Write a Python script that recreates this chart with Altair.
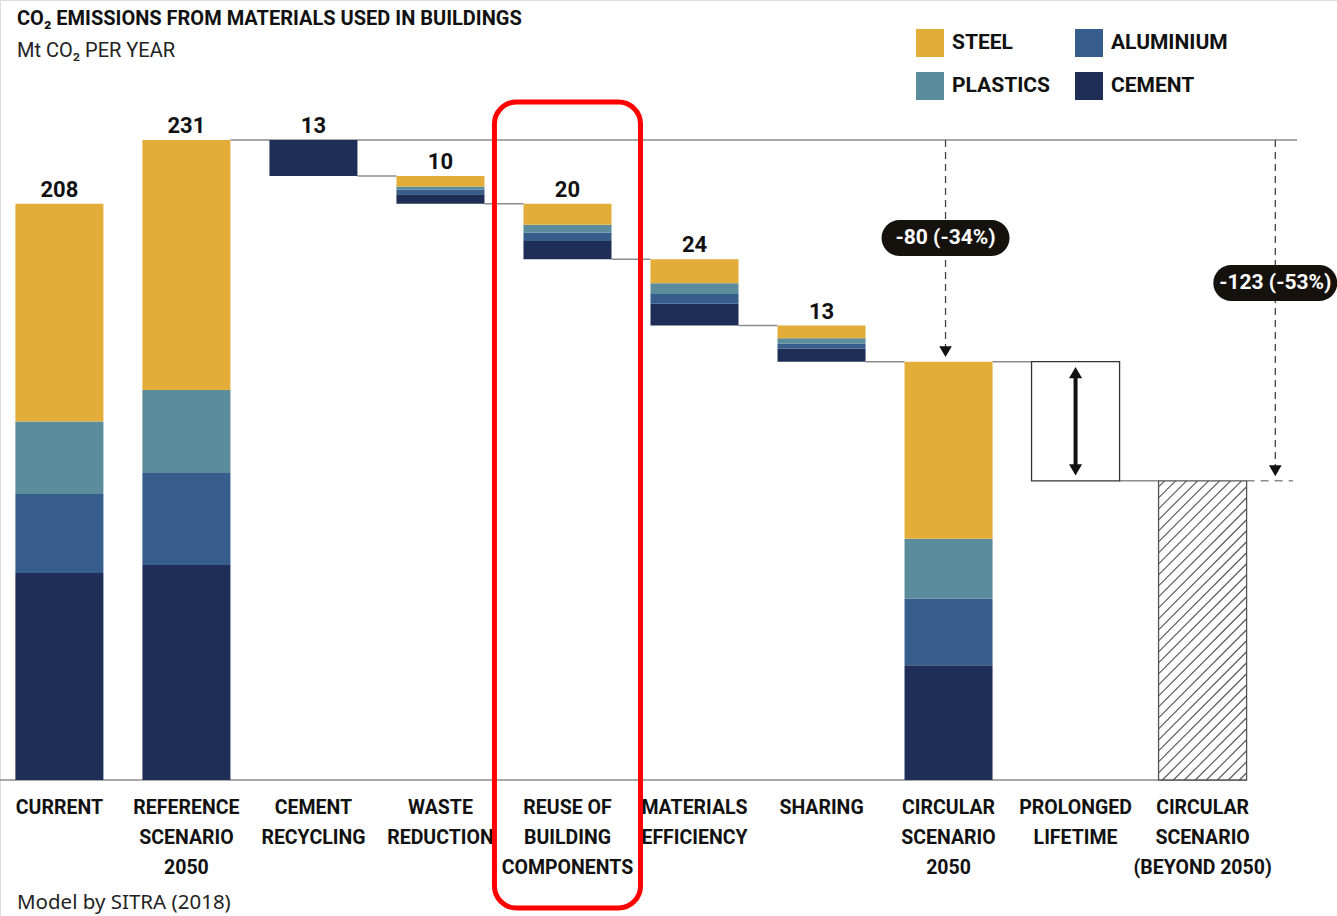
import altair as alt
import pandas as pd

# ---------------- data ----------------
categories = [
    "CURRENT",
    "REFERENCE\nSCENARIO\n2050",
    "CEMENT\nRECYCLING",
    "WASTE\nREDUCTION",
    "REUSE OF\nBUILDING\nCOMPONENTS",
    "MATERIALS\nEFFICIENCY",
    "SHARING",
    "CIRCULAR\nSCENARIO\n2050",
    "PROLONGED\nLIFETIME",
    "CIRCULAR\nSCENARIO\n(BEYOND 2050)",
]
# first eight categories are stacked by material
bar_kind = ["total", "total", "decrease", "decrease", "decrease", "decrease", "decrease", "total"]
steel = [78.6, 90.2, 0.0, 3.8, 7.6, 8.7, 4.6, 63.9]
plastics = [26.2, 30.0, 0.0, 1.2, 2.9, 3.9, 1.9, 21.6]
aluminium = [28.5, 33.2, 0.0, 1.6, 3.0, 3.5, 1.8, 24.1]
cement = [74.7, 77.6, 13.0, 3.4, 6.5, 7.9, 4.7, 41.4]
value_labels = ["208", "231", "13", "10", "20", "24", "13"]

prolonged_lifetime = 43      # reduction shown as empty box
circular_beyond = 108        # hatched total

reduction_values = [80, 123]
reduction_labels = ["-80 (-34%)", "-123 (-53%)"]

materials = ["STEEL", "PLASTICS", "ALUMINIUM", "CEMENT"]
material_colors = ["#E3AD3A", "#5A8C9B", "#365D8B", "#1F2E56"]
stack_order = ["CEMENT", "ALUMINIUM", "PLASTICS", "STEEL"]

title_text = "CO₂ EMISSIONS FROM MATERIALS USED IN BUILDINGS"
subtitle_text = "Mt CO₂ PER YEAR"
footer_text = "Model by SITRA (2018)"
highlight_index = 4

# ---------------- layout ----------------
W, H = 1337, 916
STEP = 127.02          # px per category
X0 = 59.4              # px of first category centre
BASE = 780.0           # px of zero
PXU = 2.7706           # px per Mt
HALF = 0.3465          # half bar width in category units

xdom = [-X0 / STEP, (W - X0) / STEP]
ydom = [(BASE - H) / PXU, BASE / PXU]
XS = alt.Scale(domain=xdom, nice=False, zero=False)
YS = alt.Scale(domain=ydom, nice=False, zero=False)

FONT = "Roboto"
LINE = "#8c8c8c"


def px_to_x(px):
    return (px - X0) / STEP


def px_to_y(px):
    return (BASE - px) / PXU


# ---------------- derived tables ----------------
parts_by_mat = {"STEEL": steel, "PLASTICS": plastics, "ALUMINIUM": aluminium, "CEMENT": cement}
seg_rows, top_rows = [], []
level = 0.0
levels = []
for i, kind in enumerate(bar_kind):
    total = sum(parts_by_mat[m][i] for m in materials)
    if kind == "total":
        base = 0.0
        level = total
    else:
        base = level - total
        level = base
    levels.append(level)
    y = base
    for m in stack_order:
        v = parts_by_mat[m][i]
        if v > 0:
            seg_rows.append(dict(x0=i - HALF, x1=i + HALF, material=m, y0=y, y1=y + v))
            y += v
    if i < len(value_labels):
        top_rows.append(dict(x=i, y=y, label=value_labels[i]))
seg = pd.DataFrame(seg_rows)
tops = pd.DataFrame(top_rows)

ref_total = levels[1]
circ_total = levels[7]
after_prolong = circ_total - prolonged_lifetime

# connector lines
conn_rows = [dict(x0=1 + HALF, x1=px_to_x(1297), y=ref_total)]
for i in range(2, 7):
    conn_rows.append(dict(x0=i + HALF, x1=i + 1 - HALF, y=levels[i]))
conn_rows.append(dict(x0=7 + HALF, x1=8 - HALF, y=circ_total))
conn_rows.append(dict(x0=8 + HALF, x1=9 - HALF, y=after_prolong))
conn_rows.append(dict(x0=xdom[0], x1=9 + HALF, y=0))
conn = pd.DataFrame(conn_rows)
dash_h = pd.DataFrame([dict(x0=9 + HALF, x1=px_to_x(1293), y=after_prolong)])

# boxes
prolong_box = pd.DataFrame([dict(x0=8 - HALF, x1=8 + HALF, y0=after_prolong, y1=circ_total)])
beyond_box = pd.DataFrame([dict(x0=9 - HALF, x1=9 + HALF, y0=0, y1=circular_beyond)])

# hatch lines inside the beyond box (45 degree "/" lines)
u0, u1 = (9 - HALF) * STEP, (9 + HALF) * STEP
w0, w1 = 0.0, circular_beyond * PXU
hatch_rows = []
c = u0 - w1 + 6.0
while c < u1 - w0:
    lo = max(u0, w0 + c)
    hi = min(u1, w1 + c)
    if hi > lo:
        hatch_rows.append(dict(x0=lo / STEP, x1=hi / STEP, y0=(lo - c) / PXU, y1=(hi - c) / PXU))
    c += 11.0
hatch = pd.DataFrame(hatch_rows)

# reduction arrows and pills
arrow_x = [7 - 3 / STEP, px_to_x(1275.3)]
arrow_target = [ref_total - reduction_values[0], ref_total - reduction_values[1]]
pill_centre_y = [px_to_y(238), px_to_y(283)]
pill_half_w = [64 / STEP, 62 / STEP]
pill_half_h = 18 / PXU
arrows = pd.DataFrame([
    dict(x=arrow_x[k], y0=ref_total, y1=arrow_target[k] + 10 / PXU) for k in range(2)
])
heads = pd.DataFrame([dict(x=arrow_x[k], y=arrow_target[k]) for k in range(2)])
pills = pd.DataFrame([
    dict(x0=arrow_x[k] - pill_half_w[k], x1=arrow_x[k] + pill_half_w[k],
         y0=pill_centre_y[k] - pill_half_h, y1=pill_centre_y[k] + pill_half_h,
         x=arrow_x[k], y=pill_centre_y[k], label=reduction_labels[k])
    for k in range(2)
])

# double arrow in prolonged box
dbl = pd.DataFrame([dict(x=8, y0=circ_total - 14 / PXU, y1=after_prolong + 14 / PXU)])
dbl_up = pd.DataFrame([dict(x=8, y=circ_total)])
dbl_down = pd.DataFrame([dict(x=8, y=after_prolong)])

# category labels
cats = pd.DataFrame([dict(x=i, y=0, label=c) for i, c in enumerate(categories)])

# highlight rectangle
hl = pd.DataFrame([dict(x0=highlight_index - 0.575, x1=highlight_index + 0.575,
                        y0=px_to_y(908), y1=px_to_y(102))])

titles = pd.DataFrame([dict(t=title_text)])
subtitles = pd.DataFrame([dict(t=subtitle_text)])
footer = pd.DataFrame([dict(t=footer_text)])

# ---------------- layers ----------------
def X(f):
    return alt.X(f, type="quantitative", scale=XS, axis=None)


def Y(f):
    return alt.Y(f, type="quantitative", scale=YS, axis=None)


connectors = alt.Chart(conn).mark_rule(color=LINE, strokeWidth=1.5).encode(
    x=X("x0"), x2="x1", y=Y("y"))
dash_line = alt.Chart(dash_h).mark_rule(color=LINE, strokeWidth=1.5, strokeDash=[8, 6]).encode(
    x=X("x0"), x2="x1", y=Y("y"))

bars = alt.Chart(seg).mark_rect().encode(
    x=X("x0"), x2="x1", y=Y("y0"), y2="y1",
    color=alt.Color("material:N",
                    scale=alt.Scale(domain=materials, range=material_colors),
                    legend=alt.Legend(orient="none", legendX=916, legendY=29,
                                      columns=2, title=None, symbolType="square",
                                      symbolSize=784, symbolStrokeWidth=0, symbolOpacity=1,
                                      labelFont=FONT, labelFontSize=21, labelFontWeight="bold",
                                      labelColor="#111", labelOffset=8, columnPadding=25,
                                      rowPadding=15, padding=0, labelLimit=300)),
)

value_text = alt.Chart(tops).mark_text(
    font=FONT, fontSize=22, fontWeight="bold", color="#111", baseline="alphabetic", dy=-7
).encode(x=X("x"), y=Y("y"), text="label:N")

prolong = alt.Chart(prolong_box).mark_rect(fill="white", stroke="#333", strokeWidth=1.3).encode(
    x=X("x0"), x2="x1", y=Y("y0"), y2="y1")

beyond = alt.Chart(beyond_box).mark_rect(fill="white", stroke="#555", strokeWidth=1.3).encode(
    x=X("x0"), x2="x1", y=Y("y0"), y2="y1")
hatch_layer = alt.Chart(hatch).mark_rule(color="#555", strokeWidth=1.1).encode(
    x=X("x0"), x2="x1", y=Y("y0"), y2="y1")

arrow_lines = alt.Chart(arrows).mark_rule(color="#444", strokeWidth=1.3, strokeDash=[7, 5]).encode(
    x=X("x"), y=Y("y0"), y2="y1")
arrow_heads = alt.Chart(heads).mark_point(shape="triangle-down", size=160, filled=True,
                                          color="#111", opacity=1, yOffset=-10).encode(
    x=X("x"), y=Y("y"))

pill_rects = alt.Chart(pills).mark_rect(color="#15120e", cornerRadius=18).encode(
    x=X("x0"), x2="x1", y=Y("y0"), y2="y1")
pill_text = alt.Chart(pills).mark_text(font=FONT, fontSize=21, fontWeight="bold",
                                       color="white", baseline="middle").encode(
    x=X("x"), y=Y("y"), text="label:N")

dbl_line = alt.Chart(dbl).mark_rule(color="#111", strokeWidth=4).encode(
    x=X("x"), y=Y("y0"), y2="y1")
dbl_head_up = alt.Chart(dbl_up).mark_point(shape="triangle-up", size=170, filled=True,
                                           color="#111", opacity=1, yOffset=11).encode(
    x=X("x"), y=Y("y"))
dbl_head_down = alt.Chart(dbl_down).mark_point(shape="triangle-down", size=170, filled=True,
                                               color="#111", opacity=1, yOffset=-11).encode(
    x=X("x"), y=Y("y"))

cat_text = alt.Chart(cats).mark_text(font=FONT, fontSize=19.5, fontWeight="bold", color="#111",
                                     baseline="top", dy=19, lineBreak="\n", lineHeight=30,
                                     align="center").encode(
    x=X("x"), y=Y("y"), text="label:N")

highlight = alt.Chart(hl).mark_rect(fillOpacity=0, stroke="#FF0000", strokeWidth=5,
                                    cornerRadius=22).encode(
    x=X("x0"), x2="x1", y=Y("y0"), y2="y1")

title_layer = alt.Chart(titles).mark_text(font=FONT, fontSize=20, fontWeight="bold", color="#111",
                                          align="left", baseline="alphabetic").encode(
    x=alt.value(17), y=alt.value(25), text="t:N")
subtitle_layer = alt.Chart(subtitles).mark_text(font=FONT, fontSize=20, color="#222",
                                                align="left", baseline="alphabetic").encode(
    x=alt.value(17), y=alt.value(57), text="t:N")
footer_layer = alt.Chart(footer).mark_text(font="Noto Sans", fontSize=20.5, color="#222",
                                           align="left", baseline="alphabetic").encode(
    x=alt.value(17), y=alt.value(909), text="t:N")

chart = alt.layer(
    connectors, dash_line, arrow_lines, bars, prolong, beyond, hatch_layer,
    value_text, arrow_heads, pill_rects, pill_text, dbl_line, dbl_head_up, dbl_head_down,
    cat_text, highlight, title_layer, subtitle_layer, footer_layer,
).properties(
    width=W, height=H,
    autosize=alt.AutoSizeParams(type="none"),
    padding=0,
).configure_view(stroke=None).configure(background="white")

chart.save("out.html", embed_options={"renderer": "svg", "actions": False})
